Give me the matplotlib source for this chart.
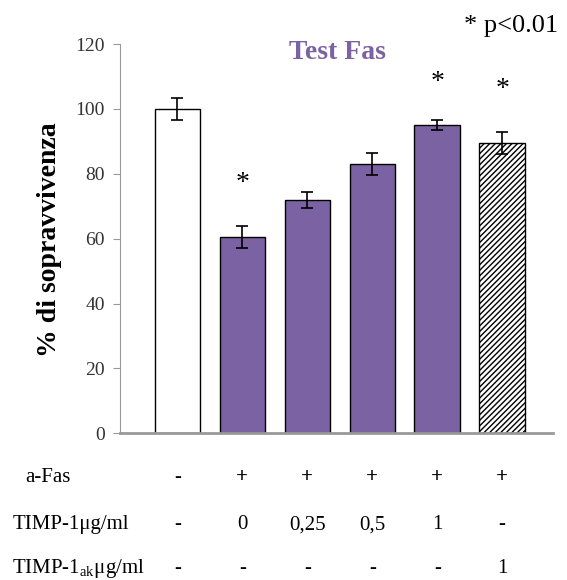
import numpy as np
import matplotlib
matplotlib.use("Agg")
import matplotlib.pyplot as plt
from matplotlib.transforms import blended_transform_factory

plt.rcParams['font.family'] = ['Liberation Serif', 'DejaVu Serif']
plt.rcParams['mathtext.fontset'] = 'custom'
plt.rcParams['mathtext.rm'] = 'Liberation Serif'
plt.rcParams['hatch.linewidth'] = 1.0

# data
values = [100, 60.5, 72, 83, 95, 89.5]
errors = [3.5, 3.5, 2.5, 3.5, 1.5, 3.5]
significant = [False, True, False, False, True, True]
row_afas = ['-', '+', '+', '+', '+', '+']
row_timp = ['-', '0', '0,25', '0,5', '1', '-']
row_timp_ak = ['-', '-', '-', '-', '-', '1']
yticks = [0, 20, 40, 60, 80, 100, 120]

purple = '#7B62A2'
fig = plt.figure(figsize=(5.67, 5.8), dpi=100)
ax = fig.add_axes([0.212, 0.253, 0.763, 0.671])

x = np.arange(len(values))
colors = ['white', purple, purple, purple, purple, 'white']
bars = ax.bar(x, values, width=0.7, color=colors, edgecolor='black', linewidth=1.0, zorder=2)
bars[-1].set_hatch('//////')
ax.errorbar(x, values, yerr=errors, fmt='none', ecolor='black', elinewidth=1.2,
            capsize=4, capthick=1.2, zorder=3)

star_y = [0, 77, 0, 0, 108, 106]
for xi, sig, sy in zip(x, significant, star_y):
    if sig:
        ax.text(xi, sy, '*', ha='center', va='center', fontsize=20)

ax.set_xlim(-0.88, 5.78)
ax.set_ylim(0, 120)
ax.set_yticks(yticks)
ax.set_yticklabels([str(t) for t in yticks], fontsize=14, color='#333333')
ax.set_xticks([])
for side in ['top', 'right']:
    ax.spines[side].set_visible(False)
ax.spines['left'].set_color('#999999')
ax.spines['bottom'].set_color('#999999')
ax.spines['bottom'].set_linewidth(2)
ax.tick_params(axis='y', color='#999999', length=5, pad=6)

fig.text(0.088, 0.586, '% di sopravvivenza', fontsize=20, fontweight='bold',
         rotation=90, ha='center', va='center')
fig.text(0.595, 0.91, 'Test Fas', color=purple, fontsize=20, fontweight='bold', ha='center', va='center')
fig.text(0.985, 0.955, '* p<0.01', fontsize=19, ha='right', va='center')

# table rows under the chart
trans = blended_transform_factory(ax.transData, fig.transFigure)
rows = [(0.177, 'a-Fas', row_afas, 0.045), (0.095, 'TIMP-1μg/ml', row_timp, 0.022),
        (0.020, 'TIMP-1$_{\\mathrm{ak}}$μg/ml', row_timp_ak, 0.022)]
for fy, label, vals, lx in rows:
    fig.text(lx, fy, label, fontsize=15, ha='left', va='center')
    for xi, v in zip(x, vals):
        ax.text(xi, fy, v, transform=trans, fontsize=15, ha='center', va='center',
                fontweight='bold' if v == '+' else 'normal')

fig.savefig('out.png', dpi=100)
